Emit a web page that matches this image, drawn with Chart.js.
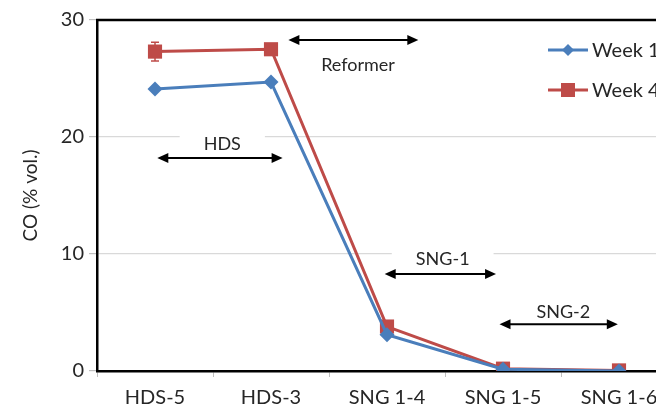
<!DOCTYPE html>
<html>
<head>
<meta charset="utf-8">
<script src="https://cdn.jsdelivr.net/npm/chart.js@4/dist/chart.umd.min.js"></script>
<style>
  html, body { margin: 0; padding: 0; background: #fff; overflow: hidden; }
  #wrap { width: 740px; height: 415px; }
</style>
</head>
<body>
<div id="wrap"><canvas id="c" width="740" height="415"></canvas></div>
<script>
// ---- data ----
const categories = ["HDS-5", "HDS-3", "SNG 1-4", "SNG 1-5", "SNG 1-6"];
const week1 = [24.1, 24.7, 3.1, 0.15, 0.0];
const week4 = [27.3, 27.5, 3.8, 0.2, 0.05];
const week4Err = [0.8, 0, 0, 0, 0];
const yTicks = [0, 10, 20, 30];
const seriesNames = ["Week 1", "Week 4"];
// annotations: label, arrow start/end (category index), arrow y value, label x (index), label y value
const annLabels = ["Reformer", "HDS", "SNG-1", "SNG-2"];
const annFrom   = [1.15, 0.02, 1.98, 2.97];
const annTo     = [2.27, 1.10, 2.94, 3.99];
const annArrowY = [28.3, 18.2, 8.3, 4.0];
const annLabelX = [1.75, 0.58, 2.48, 3.52];
const annLabelY = [26.2, 19.5, 9.6, 5.1];

const FONT = "Lato, 'Open Sans', sans-serif";
const BLUE = "#4a7ebb";
const RED = "#be4b48";
const TXT = "#262626";

const extras = {
  id: "extras",
  beforeDatasetsDraw(chart) {
    const ctx = chart.ctx, x = chart.scales.x, y = chart.scales.y, a = chart.chartArea;
    ctx.save();
    // top border
    ctx.strokeStyle = "#000"; ctx.lineWidth = 2.5;
    ctx.beginPath(); ctx.moveTo(a.left - 1, a.top); ctx.lineTo(chart.width, a.top); ctx.stroke();
    // annotations
    ctx.font = "18px " + FONT;
    ctx.textAlign = "center"; ctx.textBaseline = "middle";
    for (let i = 0; i < annLabels.length; i++) {
      const lx = x.getPixelForValue(annLabelX[i]), ly = y.getPixelForValue(annLabelY[i]);
      const w = ctx.measureText(annLabels[i]).width + 48;
      ctx.fillStyle = "#fff";
      ctx.fillRect(lx - w / 2, ly - 12, w, 24);
      ctx.fillStyle = TXT;
      ctx.fillText(annLabels[i], lx, ly + 1);
      const x1 = x.getPixelForValue(annFrom[i]), x2 = x.getPixelForValue(annTo[i]);
      const ay = y.getPixelForValue(annArrowY[i]);
      ctx.strokeStyle = "#000"; ctx.lineWidth = 2;
      ctx.beginPath(); ctx.moveTo(x1 + 6, ay); ctx.lineTo(x2 - 6, ay); ctx.stroke();
      ctx.fillStyle = "#000";
      ctx.beginPath(); ctx.moveTo(x1, ay); ctx.lineTo(x1 + 11, ay - 5); ctx.lineTo(x1 + 11, ay + 5); ctx.closePath(); ctx.fill();
      ctx.beginPath(); ctx.moveTo(x2, ay); ctx.lineTo(x2 - 11, ay - 5); ctx.lineTo(x2 - 11, ay + 5); ctx.closePath(); ctx.fill();
    }
    // error bars
    ctx.strokeStyle = RED; ctx.lineWidth = 1.5;
    week4Err.forEach((e, i) => {
      if (!e) return;
      const px = x.getPixelForValue(i);
      const t = y.getPixelForValue(week4[i] + e), b = y.getPixelForValue(week4[i] - e);
      ctx.beginPath();
      ctx.moveTo(px, t); ctx.lineTo(px, b);
      ctx.moveTo(px - 4, t); ctx.lineTo(px + 4, t);
      ctx.moveTo(px - 4, b); ctx.lineTo(px + 4, b);
      ctx.stroke();
    });
    ctx.restore();
  },
  afterDraw(chart) {
    const ctx = chart.ctx;
    ctx.save();
    ctx.font = "20px " + FONT;
    ctx.textAlign = "left"; ctx.textBaseline = "middle";
    const rows = [50, 90];
    chart.data.datasets.forEach((ds, i) => {
      const ly = rows[i];
      ctx.strokeStyle = ds.borderColor; ctx.lineWidth = 3;
      ctx.beginPath(); ctx.moveTo(548, ly); ctx.lineTo(588, ly); ctx.stroke();
      ctx.fillStyle = ds.backgroundColor;
      if (ds.pointStyle === "rectRot") {
        ctx.beginPath(); ctx.moveTo(568, ly - 6); ctx.lineTo(574, ly); ctx.lineTo(568, ly + 6); ctx.lineTo(562, ly); ctx.closePath(); ctx.fill();
      } else {
        ctx.fillRect(561, ly - 7, 14, 14);
      }
      ctx.fillStyle = TXT;
      ctx.fillText(ds.label, 592, ly + 1);
    });
    ctx.restore();
  }
};

new Chart(document.getElementById("c"), {
  type: "line",
  data: {
    labels: categories,
    datasets: [
      { label: seriesNames[0], data: week1, borderColor: BLUE, backgroundColor: BLUE,
        borderWidth: 3, pointStyle: "rectRot", pointRadius: 7.5, pointBorderWidth: 0, tension: 0 },
      { label: seriesNames[1], data: week4, borderColor: RED, backgroundColor: RED,
        borderWidth: 3, pointStyle: "rect", pointRadius: 10, pointBorderWidth: 0, tension: 0 }
    ]
  },
  options: {
    responsive: false,
    animation: false,
    layout: { padding: { left: 0, right: 63, top: 20, bottom: 0 } },
    plugins: { legend: { display: false }, tooltip: { enabled: false } },
    scales: {
      x: {
        offset: true,
        afterFit(s) { s.height = 44; },
        grid: { drawOnChartArea: false, drawTicks: true, tickLength: 6, tickColor: "#bfbfbf", offset: true },
        border: { display: true, color: "#000", width: 2.5 },
        ticks: { color: TXT, font: { family: FONT, size: 20 }, padding: 9, maxRotation: 0, autoSkip: false }
      },
      y: {
        min: 0, max: 30,
        afterFit(s) { s.width = 97; },
        afterBuildTicks(s) { s.ticks = yTicks.map(v => ({ value: v })); },
        grid: {
          color: c => (c.tick && (c.tick.value === 0 || c.tick.value === 30)) ? "rgba(0,0,0,0)" : "#d9d9d9",
          lineWidth: 1.2, tickLength: 8, tickColor: "#bfbfbf"
        },
        border: { display: true, color: "#000", width: 2.5 },
        ticks: { color: TXT, font: { family: FONT, size: 20 }, padding: 5 },
        title: { display: true, text: "CO (% vol.)", color: TXT, font: { family: FONT, size: 19 }, padding: { top: 19, bottom: 0 } }
      }
    }
  },
  plugins: [extras]
});
</script>
</body>
</html>
